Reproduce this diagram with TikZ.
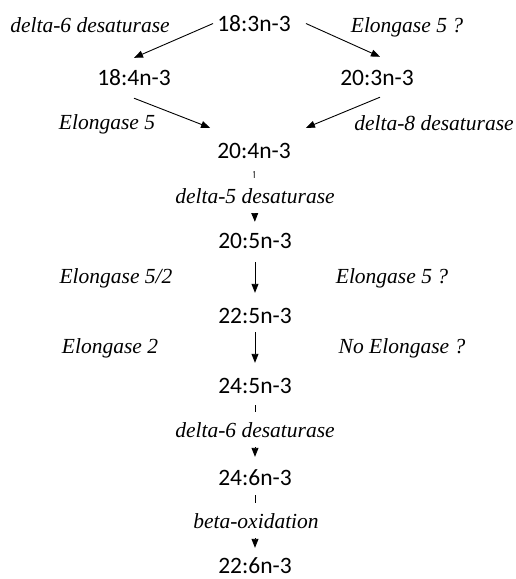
\documentclass[tikz,border=0pt]{standalone}
\usepackage{fontspec}
\setmainfont{Liberation Serif}
\newfontfamily\numfont{Carlito}
\usetikzlibrary{arrows.meta}
\begin{document}
\begin{tikzpicture}[x=1pt,y=1pt,
  acid/.style={anchor=base,inner sep=0pt,text height=16pt,text depth=0pt,font=\numfont\fontsize{23.5}{27}\selectfont},
  enz/.style={anchor=base,inner sep=0pt,font=\itshape\fontsize{21.5}{25}\selectfont},
  enzmid/.style={enz,fill=white,inner xsep=2pt,inner ysep=0pt,text height=25pt,text depth=10pt},
  arr/.style={line width=0.9pt,-{Triangle[length=9pt,width=7pt]}}]
\useasboundingbox (0,0) rectangle (515,-579);
% acids
\node[acid] (n183) at (254,-31.5) {18:3n-3};
\node[acid] (n184) at (134,-85) {18:4n-3};
\node[acid] (n203) at (377,-85) {20:3n-3};
\node[acid] (n204) at (254,-158) {20:4n-3};
\node[acid] (n205) at (255,-248) {20:5n-3};
\node[acid] (n225) at (255,-323) {22:5n-3};
\node[acid] (n245) at (255,-393) {24:5n-3};
\node[acid] (n246) at (255,-485) {24:6n-3};
\node[acid] (n226) at (255,-573) {22:6n-3};
% side labels
\node[enz] (l1) at (90,-32) {delta-6 desaturase};
\node[enz] (l2) at (407,-32) {Elongase 5 ?};
\node[enz] (l3) at (107,-129) {Elongase 5};
\node[enz] (l4) at (434,-130) {delta-8 desaturase};
\node[enz] (l5) at (116,-283) {Elongase 5/2};
\node[enz] (l6) at (392,-283) {Elongase 5 ?};
\node[enz] (l7) at (110,-353) {Elongase 2};
\node[enz] (l8) at (402,-353) {No Elongase ?};
% arrows
\draw[arr] ([xshift=-4pt]n183.west) -- ([yshift=11pt]n184.north);
\draw[arr] ([xshift=15pt]n183.east) -- ([xshift=3pt,yshift=12pt]n203.north);
\draw[arr] ([yshift=-13pt]n184.south) -- ([xshift=-7pt,yshift=14pt]n204.north west);
\draw[arr] ([xshift=3pt,yshift=-12pt]n203.south) -- ([xshift=15pt,yshift=14pt]n204.north east);
\draw[arr,shorten <=13pt,shorten >=10pt] (n204.south) -- (n205.north);
\draw[arr,shorten <=14pt,shorten >=14pt] (n205.south) -- (n225.north);
\draw[arr,shorten <=9pt,shorten >=14pt] (n225.south) -- (n245.north);
\draw[arr,shorten <=12pt,shorten >=12pt] (n245.south) -- (n246.north);
\draw[arr,shorten <=10pt,shorten >=9pt] (n246.south) -- (n226.north);
% labels on vertical arrows
\node[enzmid] (m1) at (255,-203) {delta-5 desaturase};
\node[enzmid] (m2) at (255,-437) {delta-6 desaturase};
\node[enzmid] (m3) at (256,-528) {beta-oxidation};
\end{tikzpicture}
\end{document}
